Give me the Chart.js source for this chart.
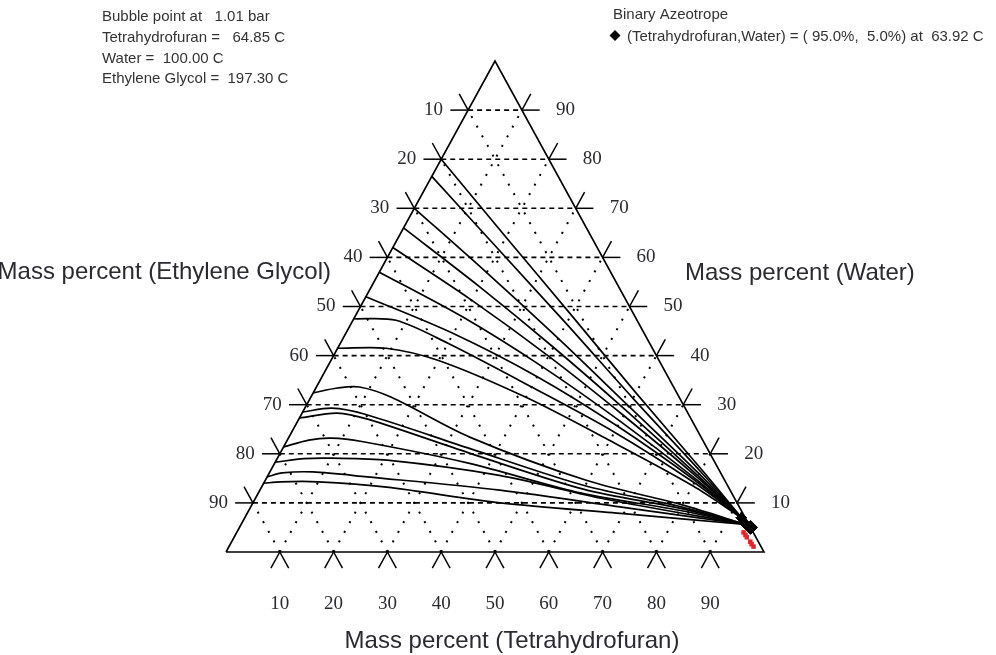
<!DOCTYPE html>
<html>
<head>
<meta charset="utf-8">
<script src="https://cdn.jsdelivr.net/npm/chart.js@4.4.1/dist/chart.umd.min.js"></script>
<style>
  html, body { margin: 0; padding: 0; background: #fff; }
  #wrap { width: 996px; height: 655px; position: relative; }
</style>
</head>
<body>
<div id="wrap"><canvas id="ternary" width="996" height="655"></canvas></div>
<script>
// mass percent ticks on every side
const tickValues = [10, 20, 30, 40, 50, 60, 70, 80, 90];

// residue curves, one row per curve (THF %, water %)
const curveThf = [
  [0, 20, 40, 60, 80, 92.3],
  [0, 20, 40, 60, 80, 92.3],
  [0, 20, 40, 60, 80, 92.3],
  [0, 20, 40, 60, 80, 92.3],
  [0, 20, 40, 60, 80, 92.3],
  [0, 20, 40, 60, 80, 92.3],
  [0, 20, 40, 60, 80, 92.3],
  [0, 8, 20, 40, 60, 80, 92.3],
  [0, 9, 20, 40, 60, 80, 92.3],
  [0, 4, 8, 15, 33.6, 60, 80, 93.8],
  [0, 5, 12, 35, 60, 80, 93.8],
  [0, 6.5, 13, 35, 60, 80, 93.8],
  [0, 4, 8, 14, 36, 60, 80, 93.8],
  [0, 5, 10, 20.6, 43, 65, 93.8],
  [0, 2.4, 8, 18.6, 44.6, 70, 93.8],
  [0, 3, 10, 23.3, 46, 70, 93.8],
];
const curveWater = [
  [80, 64.1, 48.3, 32.4, 16.8, 7.0],
  [76.5, 61.5, 46.5, 31.3, 16.4, 7.0],
  [70, 56.9, 43.5, 29.7, 15.9, 7.0],
  [66, 54.1, 41.7, 28.8, 15.5, 7.0],
  [62, 51.3, 39.9, 27.8, 15.2, 7.0],
  [57, 47.9, 37.7, 26.6, 14.8, 7.0],
  [52, 44.5, 35.7, 25.6, 14.5, 7.0],
  [47.5, 47.2, 42.5, 33.6, 24.4, 14.1, 7.0],
  [41.5, 41.5, 39, 31.5, 22.7, 13.5, 7.0],
  [32.4, 33.4, 33.6, 31.5, 23.4, 14.5, 9.6, 5.6],
  [28.5, 29.3, 28, 21, 13.5, 9.2, 5.6],
  [27.3, 28.3, 27, 20.2, 12.8, 8.9, 5.6],
  [21.4, 22.8, 23.2, 22.5, 18.1, 12.0, 8.5, 5.6],
  [18.3, 19, 19.1, 18.7, 15.6, 10.8, 5.6],
  [15.3, 16.1, 16.3, 15.3, 12.6, 9, 5.6],
  [14, 14.3, 14.3, 13.2, 10, 7.8, 5.6],
];

// binary azeotrope and the red end points near the THF corner
const azeoThf = [95.0];
const azeoWater = [5.0];
const redThf = [94.2, 94.8, 95.3, 96.4, 96.9, 97.5];
const redWater = [4.0, 3.5, 3.0, 2.1, 1.6, 1.1];

const headerLeft = [
  'Bubble point at   1.01 bar',
  'Tetrahydrofuran =   64.85 C',
  'Water =  100.00 C',
  'Ethylene Glycol =  197.30 C',
];
const headerRight = [
  'Binary Azeotrope',
  '(Tetrahydrofuran,Water) = ( 95.0%,  5.0%) at  63.92 C',
];
const titleLeft = 'Mass percent (Ethylene Glycol)';
const titleRight = 'Mass percent (Water)';
const titleBottom = 'Mass percent (Tetrahydrofuran)';

// composition -> plot coords (x stretched to the triangle, y = water)
function tern(thf, water) {
  return { x: thf + water / 2, y: water };
}

function lineSet(points, extra) {
  return Object.assign({
    data: points,
    showLine: true,
    pointRadius: 0,
    borderColor: '#000',
    borderWidth: 1.5,
    fill: false,
    clip: false,
    tension: 0,
  }, extra);
}

const datasets = [];

// grid: horizontal dashed (constant water), dotted sloped (constant THF / constant EG)
tickValues.forEach((v) => {
  datasets.push(lineSet([tern(0, v), tern(100 - v, v)], { borderDash: [5, 4], borderWidth: 1.6 }));
  datasets.push(lineSet([tern(v, 0), tern(v, 100 - v)], { borderDash: [2, 9], borderWidth: 2 }));
  datasets.push(lineSet([tern(100 - v, 0), tern(0, 100 - v)], { borderDash: [2, 9], borderWidth: 2 }));
});

// triangle outline
datasets.push(lineSet([tern(0, 0), tern(100, 0), tern(0, 100), tern(0, 0)], { borderWidth: 1.6 }));

// tick marks = short extensions of the grid lines outside the triangle
const tickLen = 3.3;
tickValues.forEach((v) => {
  // left side (THF = 0)
  datasets.push(lineSet([tern(0, v), tern(-tickLen, v)]));
  datasets.push(lineSet([tern(0, v), tern(-tickLen, v + tickLen)]));
  // right side (EG = 0)
  datasets.push(lineSet([tern(100 - v, v), tern(100 - v + tickLen, v)]));
  datasets.push(lineSet([tern(100 - v, v), tern(100 - v, v + tickLen)]));
  // bottom (water = 0)
  datasets.push(lineSet([tern(v, 0), tern(v, -tickLen)]));
  datasets.push(lineSet([tern(v, 0), tern(v + tickLen, -tickLen)]));
});

// residue curves
curveThf.forEach((thfs, i) => {
  const pts = thfs.map((t, j) => tern(t, curveWater[i][j]));
  datasets.push(lineSet(pts, { borderWidth: 1.7, tension: 0.3 }));
});

// end markers of the curves (black blob round the azeotrope)
datasets.push({
  data: curveThf.map((thfs, i) => tern(thfs[thfs.length - 1], curveWater[i][thfs.length - 1])),
  showLine: false,
  pointStyle: 'rectRot',
  pointRadius: 5,
  backgroundColor: '#000',
  borderColor: '#000',
  clip: false,
});
datasets.push({
  data: redThf.map((t, j) => tern(t, redWater[j])),
  showLine: false,
  pointStyle: 'rect',
  pointRadius: 3.2,
  backgroundColor: '#e5232b',
  borderColor: '#e5232b',
  borderWidth: 0,
  clip: false,
});
datasets.push({
  data: azeoThf.map((t, j) => tern(t, azeoWater[j])),
  showLine: false,
  pointStyle: 'rectRot',
  pointRadius: 7,
  backgroundColor: '#000',
  borderColor: '#000',
  clip: false,
});

const textPlugin = {
  id: 'ternaryText',
  afterDatasetsDraw(chart) {
    const { ctx } = chart;
    const sx = chart.scales.x;
    const sy = chart.scales.y;
    const px = (thf, water) => [sx.getPixelForValue(thf + water / 2), sy.getPixelForValue(water)];
    ctx.save();
    ctx.fillStyle = '#2a2a30';
    ctx.textBaseline = 'middle';

    // tick labels
    ctx.font = '19px "Liberation Serif", serif';
    tickValues.forEach((v) => {
      const [lx, ly] = px(0, 100 - v);
      ctx.textAlign = 'right';
      ctx.fillText(String(v), lx - 25, ly);
      const [rx, ry] = px(100 - v, v);
      ctx.textAlign = 'left';
      ctx.fillText(String(v), rx + 34, ry);
      const [bx, by] = px(v, 0);
      ctx.textAlign = 'center';
      ctx.fillText(String(v), bx, by + 52);
    });

    // axis titles
    ctx.font = '24px "Liberation Sans", Arial, sans-serif';
    ctx.textBaseline = 'alphabetic';
    ctx.textAlign = 'right';
    ctx.fillText(titleLeft, 331, 279);
    ctx.textAlign = 'left';
    ctx.fillText(titleRight, 685, 280);
    ctx.textAlign = 'center';
    ctx.fillText(titleBottom, 512, 648);

    // header notes
    ctx.font = '15px "Liberation Sans", Arial, sans-serif';
    ctx.fillStyle = '#333';
    ctx.textBaseline = 'middle';
    ctx.textAlign = 'left';
    [17, 38, 59, 79].forEach((yy, i) => ctx.fillText(headerLeft[i], 102, yy));
    ctx.fillText(headerRight[0], 613, 15);
    ctx.fillText(headerRight[1], 627, 37);

    // legend diamond
    ctx.fillStyle = '#000';
    ctx.beginPath();
    ctx.moveTo(615, 30);
    ctx.lineTo(620.5, 35.5);
    ctx.lineTo(615, 41);
    ctx.lineTo(609.5, 35.5);
    ctx.closePath();
    ctx.fill();
    ctx.restore();
  },
};

new Chart(document.getElementById('ternary'), {
  type: 'scatter',
  data: { datasets },
  options: {
    responsive: false,
    animation: false,
    layout: { padding: { left: 226, right: 232, top: 61, bottom: 103 } },
    scales: {
      x: { type: 'linear', min: 0, max: 100, display: false },
      y: { type: 'linear', min: 0, max: 100, display: false },
    },
    plugins: {
      legend: { display: false },
      tooltip: { enabled: false },
    },
  },
  plugins: [textPlugin],
});
</script>
</body>
</html>
